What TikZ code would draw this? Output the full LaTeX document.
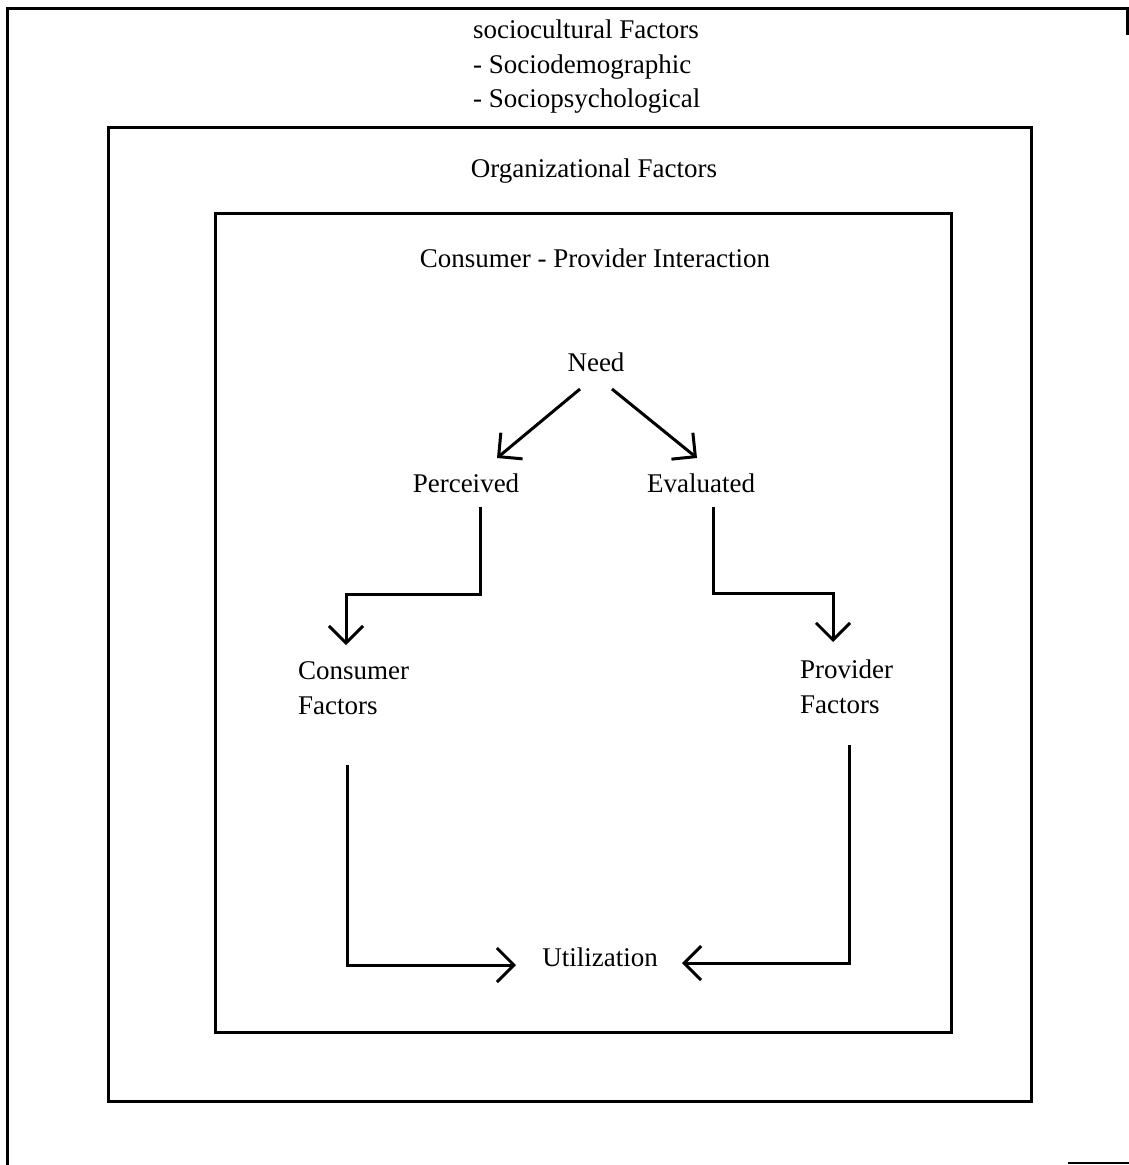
\documentclass[tikz,border=0pt]{standalone}
\usepackage{fontspec}
\setmainfont{Liberation Serif}
\usetikzlibrary{arrows.meta,positioning}

\tikzset{
  frame/.style={line width=3pt},
  lbl/.style={inner sep=0pt,font=\fontsize{27}{34.5}\selectfont},
  arr/.style={line width=3pt,-{Straight Barb[length=17pt,width=34pt]}}
}

\begin{document}
\begin{tikzpicture}[x=1pt,y=-1pt]
    \useasboundingbox (0,0) rectangle (1129,1165);
    \fill[white] (0,0) rectangle (1129,1165);
    \draw[frame] (7,1165)--(7,8)--(1127,8)--(1127,35);
    \draw[line width=1.5pt] (1068,1163)--(1129,1163);
    \draw[frame] (108,127) rectangle (1031,1101);
    \draw[frame] (215,213) rectangle (951,1032);
    \node[lbl,align=left,anchor=west] (socio) at (473,67)
        {sociocultural Factors\\- Sociodemographic\\- Sociopsychological};
    \node[lbl] (org) at (594,171) {Organizational Factors};
    \node[lbl] (cpi) at (595,258) {Consumer - Provider Interaction};
    \node[lbl] (need) at (596,362) {Need};
    \node[lbl] (perc) at (466,483) {Perceived};
    \node[lbl] (eval) at (701,483) {Evaluated};
    \node[lbl,align=left,anchor=west] (cons) at (298,688) {Consumer\\Factors};
    \node[lbl,align=left,anchor=west] (prov) at (800,687) {Provider\\Factors};
    \node[lbl] (util) at (600,957) {Utilization};
    \draw[arr] ([shift={(-16,27)}]need.center) -- ([shift={(31,-25)}]perc.center);
    \draw[arr] ([shift={(16,27)}]need.center) -- ([shift={(-4,-25)}]eval.center);
    \draw[arr] ([shift={(14,24)}]perc.center) -- ++(0,87)
        -| ([shift={(48,-43)}]cons.west);
    \draw[arr] ([shift={(12,24)}]eval.center) -- ++(0,86)
        -| ([shift={(33,-45)}]prov.west);
    \draw[arr] ([shift={(49,77)}]cons.west) |- ([shift={(-84,8)}]util.center);
    \draw[arr] ([shift={(49,58)}]prov.west) |- ([shift={(82,6)}]util.center);
\end{tikzpicture}
\end{document}
